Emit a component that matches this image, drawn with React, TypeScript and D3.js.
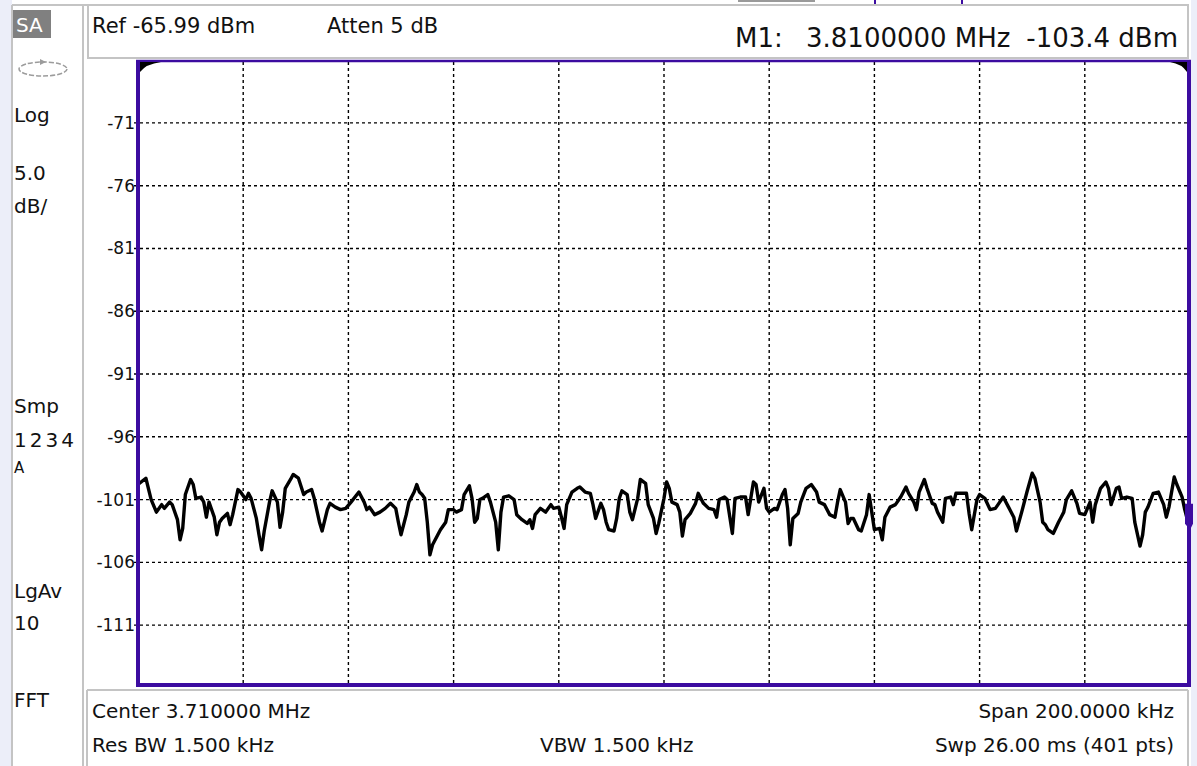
import React from "react";
import * as d3 from "d3";

// Instrument settings shown in the annotation panels
const centerMHz = 3.71;
const spanKHz = 200;
const refLevelDbm = -65.99;
const dbPerDiv = 5;
const sweepPoints = 401;
const divisions = 10;

// Amplitude axis labels (dBm)
const yTickValues = [-71, -76, -81, -86, -91, -96, -101, -106, -111];

// Marker M1
const markerFreqMHz = 3.81;
const markerDbm = -103.4;

// Trace vertices: [sweep point index, level dBm]
const trace: [number, number][] = [
  [0, -99.8], [3, -99.3], [5, -101.0], [7, -102.0], [9, -101.4], [10, -101.7], [12, -101.2], [13, -101.4],
  [15, -102.6], [16, -104.2], [17, -103.3], [18, -100.6], [20, -99.4], [21, -99.8], [22, -100.9], [24, -100.8],
  [25, -101.2], [26, -102.4], [27, -101.2], [29, -102.4], [30, -103.8], [31, -102.8], [32, -102.5], [34, -102.1],
  [35, -103.0], [36, -102.2], [38, -100.2], [39, -100.4], [41, -101.0], [42, -100.5], [43, -100.9], [45, -102.5],
  [46, -103.8], [47, -105.0], [48, -103.5], [50, -101.2], [51, -100.3], [53, -101.2], [54, -103.2], [55, -102.0],
  [56, -100.1], [58, -99.4], [59, -99.0], [61, -99.3], [63, -100.6], [64, -100.4], [66, -100.2], [67, -100.9],
  [69, -102.8], [70, -103.5], [72, -101.8], [73, -101.3], [75, -101.6], [77, -101.8], [79, -101.7], [81, -101.2],
  [84, -100.4], [86, -101.2], [87, -101.8], [88, -101.6], [90, -102.2], [92, -102.0], [94, -101.7], [96, -101.3],
  [98, -101.7], [99, -102.8], [100, -103.8], [102, -102.2], [103, -101.2], [105, -100.4], [106, -99.8], [107, -100.4],
  [108, -100.6], [109, -100.9], [110, -102.8], [111, -105.4], [112, -104.6], [114, -103.8], [115, -103.4], [117, -102.8],
  [118, -101.8], [120, -101.8], [121, -102.0], [123, -101.8], [124, -100.6], [126, -99.9], [127, -100.9], [128, -102.8],
  [129, -102.5], [130, -101.0], [131, -100.9], [133, -100.6], [134, -101.2], [136, -102.8], [137, -105.0], [138, -102.0],
  [139, -100.8], [141, -100.7], [143, -101.0], [144, -102.2], [146, -102.6], [148, -102.9], [149, -102.6], [150, -103.3],
  [151, -102.2], [153, -101.7], [155, -102.0], [157, -101.4], [158, -101.7], [160, -101.6], [161, -102.4], [162, -103.3],
  [163, -101.4], [165, -100.4], [167, -100.1], [168, -100.0], [170, -100.4], [172, -100.5], [173, -101.4], [174, -102.5],
  [176, -101.3], [177, -101.8], [178, -102.8], [179, -103.4], [181, -103.5], [182, -102.5], [183, -100.9], [184, -100.3],
  [186, -100.6], [187, -102.0], [188, -102.6], [190, -100.9], [191, -99.4], [193, -99.7], [194, -101.4], [196, -102.5],
  [197, -103.7], [198, -102.9], [200, -100.9], [201, -99.6], [202, -100.1], [203, -101.2], [205, -101.4], [206, -102.0],
  [207, -103.9], [208, -102.6], [210, -102.1], [212, -101.3], [213, -100.5], [215, -101.3], [217, -101.7], [219, -101.8],
  [220, -102.4], [221, -101.0], [223, -100.8], [224, -101.0], [226, -103.7], [227, -100.9], [229, -100.8], [231, -100.8],
  [232, -102.2], [234, -99.6], [235, -99.8], [236, -101.2], [238, -100.1], [239, -101.7], [240, -102.0], [242, -101.7],
  [243, -101.8], [245, -100.6], [246, -100.2], [247, -101.7], [248, -104.6], [249, -102.5], [251, -102.1], [252, -101.2],
  [254, -100.1], [256, -99.8], [258, -100.4], [259, -101.2], [261, -101.4], [263, -102.2], [265, -102.4], [266, -101.2],
  [267, -100.2], [269, -101.2], [270, -102.9], [271, -102.5], [272, -102.5], [274, -103.4], [275, -103.5], [277, -102.2],
  [278, -100.6], [279, -102.0], [280, -103.4], [282, -103.3], [283, -104.2], [284, -102.4], [286, -101.6], [288, -101.4],
  [290, -100.8], [292, -100.0], [293, -100.5], [295, -101.2], [296, -101.8], [297, -100.4], [299, -99.4], [300, -100.1],
  [302, -101.3], [303, -101.4], [304, -102.0], [306, -102.8], [307, -100.9], [309, -100.8], [310, -101.4], [311, -100.5],
  [313, -100.5], [315, -100.5], [316, -102.1], [317, -103.4], [319, -101.0], [320, -100.6], [322, -100.9], [324, -101.8],
  [326, -101.7], [327, -101.4], [329, -100.8], [331, -101.6], [333, -102.4], [334, -103.5], [336, -102.0], [338, -100.4],
  [340, -98.9], [341, -99.3], [343, -101.2], [344, -102.8], [345, -103.0], [346, -103.4], [348, -103.7], [350, -102.8],
  [351, -102.4], [352, -102.0], [353, -101.0], [355, -100.3], [357, -101.3], [358, -102.1], [360, -102.2], [362, -101.2],
  [363, -102.8], [364, -101.4], [366, -100.1], [368, -99.6], [369, -100.1], [370, -101.4], [372, -100.1], [373, -100.0],
  [374, -100.9], [376, -100.8], [378, -100.9], [379, -102.8], [381, -104.7], [382, -103.8], [383, -102.0], [384, -101.6],
  [386, -100.5], [388, -100.4], [390, -101.4], [391, -102.4], [392, -101.6], [394, -99.2], [395, -99.8], [397, -100.8],
  [398, -101.8], [400, -103.4],
];

const W = 1197;
const H = 766;
const FONT = "DejaVu Sans";
const PURPLE = "#3c0ca0";
const PANEL_LINE = "#c4c4c4";
const BACKDROP = "#eceef9";

const startMHz = centerMHz - spanKHz / 2000;
const stopMHz = centerMHz + spanKHz / 2000;
const bottomDbm = refLevelDbm - divisions * dbPerDiv;

const fmt = (v: number, digits: number) => v.toFixed(digits);

export default function App() {
  const x = d3.scaleLinear().domain([startMHz, stopMHz]).range([138, 1190]);
  const y = d3.scaleLinear().domain([bottomDbm, refLevelDbm]).range([687.8, 60]);
  const stepMHz = (stopMHz - startMHz) / (sweepPoints - 1);

  const line = d3
    .line<[number, number]>()
    .x((d) => x(startMHz + d[0] * stepMHz))
    .y((d) => y(d[1]));

  const vGrid = d3.range(1, divisions).map((i) => startMHz + (i * (stopMHz - startMHz)) / divisions);

  const mx = x(markerFreqMHz);
  const my = y(markerDbm);

  const txt = { fontFamily: FONT, fill: "#111" } as const;

  return (
    <svg
      width={W}
      height={H}
      viewBox={`0 0 ${W} ${H}`}
      style={{ position: "absolute", left: 0, top: 0, display: "block" }}
    >
      <defs>
        <clipPath id="plotClip">
          <rect x={140} y={62} width={1047} height={621} />
        </clipPath>
      </defs>
      <rect x={0} y={0} width={W} height={H} fill={BACKDROP} />
      <rect x={12} y={0} width={1179} height={H} fill="#fff" />

      {/* status strip cut off at the top edge */}
      <rect x={738} y={0} width={77} height={2} fill="#9a9a9a" />
      <rect x={874} y={0} width={2} height={4} fill={PURPLE} />
      <rect x={961} y={0} width={2} height={4} fill={PURPLE} />

      {/* panel outlines */}
      <line x1={12} x2={1189} y1={5} y2={5} stroke={PANEL_LINE} strokeWidth={2} />
      <line x1={12} x2={12} y1={5} y2={H} stroke={PANEL_LINE} strokeWidth={2} />
      <line x1={83} x2={83} y1={5} y2={H} stroke={PANEL_LINE} strokeWidth={2} />
      <rect x={88} y={5} width={1100} height={53} fill="#fff" stroke={PANEL_LINE} strokeWidth={2} />
      <line x1={87} x2={1188} y1={690} y2={690} stroke={PANEL_LINE} strokeWidth={2} />
      <line x1={87} x2={87} y1={690} y2={H} stroke={PANEL_LINE} strokeWidth={2} />
      <line x1={1188} x2={1188} y1={690} y2={H} stroke={PANEL_LINE} strokeWidth={2} />

      {/* left status column */}
      <rect x={13} y={10} width={38} height={28} fill="#808080" />
      <text x={16} y={32} fontSize={20} fontFamily={FONT} fill="#fff">SA</text>
      <ellipse cx={43} cy={69} rx={24} ry={7} fill="none" stroke="#9c9c9c" strokeWidth={1.5} strokeDasharray="5,2" />
      <path d="M40,59 L46,62 L40,65 Z" fill="#9c9c9c" />
      <text x={14} y={122} fontSize={20} {...txt}>Log</text>
      <text x={14} y={180} fontSize={20} {...txt}>5.0</text>
      <text x={14} y={213} fontSize={20} {...txt}>dB/</text>
      <text x={14} y={413} fontSize={20} {...txt}>Smp</text>
      <text x={14} y={447} fontSize={20} letterSpacing={3} {...txt}>1234</text>
      <text x={14} y={473} fontSize={15} {...txt}>A</text>
      <text x={14} y={598} fontSize={20} {...txt}>LgAv</text>
      <text x={14} y={630} fontSize={20} {...txt}>10</text>
      <text x={14} y={707} fontSize={20} {...txt}>FFT</text>

      {/* header */}
      <text x={92} y={33} fontSize={21} {...txt}>{`Ref ${fmt(refLevelDbm, 2)} dBm`}</text>
      <text x={327} y={33} fontSize={21} {...txt}>{`Atten ${dbPerDiv} dB`}</text>
      <text x={735} y={47} fontSize={26} {...txt}>M1:</text>
      <text x={806} y={47} fontSize={26} {...txt}>{`${fmt(markerFreqMHz, 7)} MHz`}</text>
      <text x={1178} y={47} fontSize={26} textAnchor="end" {...txt}>{`${fmt(markerDbm, 1)} dBm`}</text>

      {/* graticule */}
      <g stroke="#000" strokeWidth={1.4} strokeDasharray="3,3" fill="none">
        {yTickValues.map((v) => (
          <line key={`h${v}`} x1={134} x2={1188} y1={y(v)} y2={y(v)} />
        ))}
        {vGrid.map((f, i) => (
          <line key={`v${i}`} x1={x(f)} x2={x(f)} y1={62} y2={687} />
        ))}
      </g>
      {yTickValues.map((v) => (
        <text key={`t${v}`} x={135} y={y(v) + 6} fontSize={17} textAnchor="end" {...txt}>
          {v}
        </text>
      ))}

      {/* trace */}
      <path
        d={line(trace) ?? ""}
        fill="none"
        stroke="#000"
        strokeWidth={3.4}
        strokeLinejoin="round"
        clipPath="url(#plotClip)"
      />

      {/* graticule frame */}
      <line x1={136} x2={1191} y1={61} y2={61} stroke={PURPLE} strokeWidth={2.5} />
      <line x1={136} x2={1191} y1={685} y2={685} stroke={PURPLE} strokeWidth={4} />
      <line x1={138} x2={138} y1={60} y2={687} stroke={PURPLE} strokeWidth={4} />
      <line x1={1189} x2={1189} y1={60} y2={687} stroke={PURPLE} strokeWidth={4} />

      {/* corner indicators */}
      <path d="M140,62 L161,62 Q146,64 140,72 Z" fill="#000" />
      <path d="M1187,62 L1170,62 Q1182,64 1187,72 Z" fill="#000" />

      {/* marker M1 */}
      <path
        d={`M${mx - 5},${my - 26} L${mx + 3},${my - 26} L${mx + 3},${my - 6} L${mx},${my} L${mx - 5},${my - 6} Z`}
        fill={PURPLE}
      />

      {/* footer */}
      <text x={92} y={718} fontSize={20} {...txt}>{`Center ${fmt(centerMHz, 6)} MHz`}</text>
      <text x={1174} y={718} fontSize={20} textAnchor="end" {...txt}>{`Span ${fmt(spanKHz, 4)} kHz`}</text>
      <text x={92} y={752} fontSize={20} {...txt}>Res BW 1.500 kHz</text>
      <text x={540} y={752} fontSize={20} {...txt}>VBW 1.500 kHz</text>
      <text x={1174} y={752} fontSize={20} textAnchor="end" {...txt}>{`Swp 26.00 ms (${sweepPoints} pts)`}</text>
    </svg>
  );
}
